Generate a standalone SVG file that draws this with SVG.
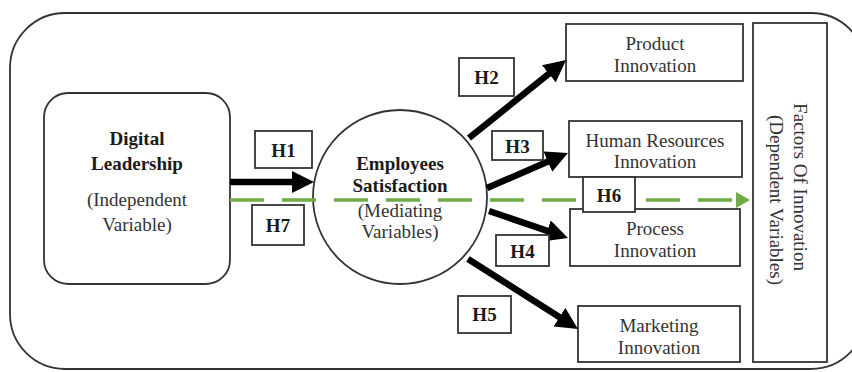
<svg xmlns="http://www.w3.org/2000/svg" width="852" height="372" viewBox="0 0 852 372">
<style>
.box{fill:#fff;stroke:#333;stroke-width:1.8}
.t{font-family:"Liberation Serif","Times New Roman",serif;font-size:19px;fill:#333;text-anchor:middle}
.b{font-weight:bold;fill:#1a1a1a}
.arr{stroke:#000;stroke-width:6.5;fill:none}
.g{stroke:#70ad47;stroke-width:3.5;stroke-dasharray:34 18;fill:none}
</style>
<defs>
<marker id="ah" markerUnits="userSpaceOnUse" viewBox="0 0 22 22" refX="4" refY="11" markerWidth="22" markerHeight="22" orient="auto">
<path d="M0,0 L22,11 L0,22 Z" fill="#000"/>
</marker>
<marker id="gh" markerUnits="userSpaceOnUse" viewBox="0 0 14 16" refX="2" refY="8" markerWidth="14" markerHeight="16" orient="auto">
<path d="M0,0 L14,8 L0,16 Z" fill="#70ad47"/>
</marker>
</defs>
<rect width="852" height="372" fill="#fff"/>
<rect id="frame" x="10" y="13" width="856" height="356" rx="55" ry="55" fill="none" stroke="#333" stroke-width="1.8"/>

<g id="digital-leadership">
<rect class="box" x="44" y="93" width="186" height="191" rx="24"/>
<text class="t b" x="137" y="145">Digital</text>
<text class="t b" x="137" y="170">Leadership</text>
<text class="t" x="137" y="206">(Independent</text>
<text class="t" x="137" y="231">Variable)</text>
</g>

<g id="employees-satisfaction">
<circle class="box" cx="400" cy="197" r="87"/>
</g>

<g id="product-innovation">
<rect class="box" x="566" y="24" width="177" height="57"/>
<text class="t" x="655" y="50">Product</text>
<text class="t" x="655" y="72">Innovation</text>
</g>
<g id="hr-innovation">
<rect class="box" x="569" y="121" width="173" height="56"/>
<text class="t" x="655" y="147">Human Resources</text>
<text class="t" x="655" y="168">Innovation</text>
</g>
<g id="process-innovation">
<rect class="box" x="570" y="209" width="170" height="57"/>
<text class="t" x="655" y="235">Process</text>
<text class="t" x="655" y="257">Innovation</text>
</g>
<g id="marketing-innovation">
<rect class="box" x="578" y="306" width="162" height="56"/>
<text class="t" x="659" y="332">Marketing</text>
<text class="t" x="659" y="354">Innovation</text>
</g>
<g id="factors-of-innovation">
<rect class="box" x="753" y="23" width="74" height="339"/>
<text class="t" transform="translate(794,187) rotate(90)">Factors Of Innovation</text>
<text class="t" transform="translate(770,200) rotate(90)">(Dependent Variables)</text>
</g>

<g id="connectors">
<line class="g" x1="230" y1="200" x2="738" y2="200" marker-end="url(#gh)"/>
<line class="arr" x1="230" y1="182" x2="296" y2="182" marker-end="url(#ah)"/>
<line class="arr" x1="469" y1="138" x2="552" y2="71.3" marker-end="url(#ah)"/>
<line class="arr" x1="487" y1="188" x2="551.5" y2="160.1" marker-end="url(#ah)"/>
<line class="arr" x1="489" y1="211" x2="551" y2="232.2" marker-end="url(#ah)"/>
<line class="arr" x1="468" y1="259" x2="562.8" y2="319.3" marker-end="url(#ah)"/>
</g>

<g id="circle-text">
<text class="t b" x="400" y="170">Employees</text>
<text class="t b" x="400" y="192">Satisfaction</text>
<text class="t" x="400" y="217">(Mediating</text>
<text class="t" x="400" y="238">Variables)</text>
</g>

<g id="h1"><rect class="box" x="255" y="131" width="57" height="37"/><text class="t b" x="283.5" y="157">H1</text></g>
<g id="h7"><rect class="box" x="252" y="205" width="52" height="40"/><text class="t b" x="278" y="232">H7</text></g>
<g id="h2"><rect class="box" x="459" y="58" width="55" height="38"/><text class="t b" x="486.5" y="84">H2</text></g>
<g id="h3"><rect class="box" x="492" y="131" width="51" height="29"/><text class="t b" x="517.5" y="153">H3</text></g>
<g id="h6"><rect class="box" x="583" y="177" width="52" height="35"/><text class="t b" x="609" y="202">H6</text></g>
<g id="h4"><rect class="box" x="496" y="235" width="53" height="31"/><text class="t b" x="522.5" y="258">H4</text></g>
<g id="h5"><rect class="box" x="458" y="296" width="53" height="37"/><text class="t b" x="484.5" y="321">H5</text></g>
</svg>
